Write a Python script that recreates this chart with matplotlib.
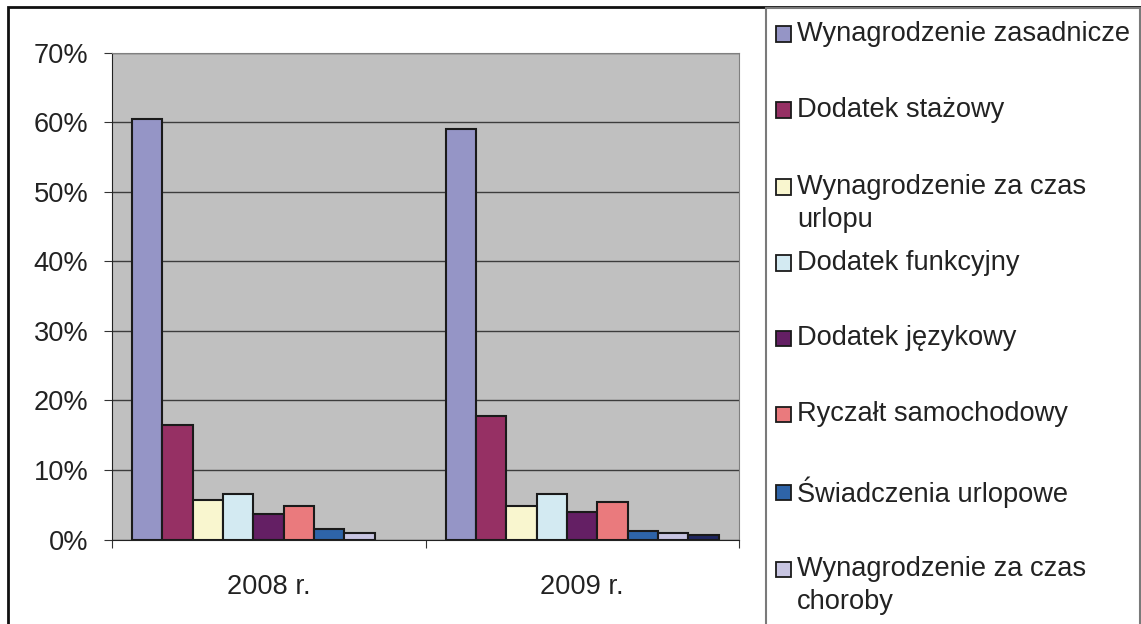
import numpy as np
import matplotlib
matplotlib.use("Agg")
import matplotlib.pyplot as plt
from matplotlib.patches import Rectangle

# Data (share of total pay, %).
years = ["2008 r.", "2009 r."]
labels = ["Wynagrodzenie zasadnicze", "Dodatek stażowy", "Wynagrodzenie za czas\nurlopu",
          "Dodatek funkcyjny", "Dodatek językowy", "Ryczałt samochodowy",
          "Świadczenia urlopowe", "Wynagrodzenie za czas\nchoroby"]
values_2008 = [60.5, 16.5, 5.7, 6.5, 3.6, 4.8, 1.5, 0.9, np.nan]
values_2009 = [59.0, 17.7, 4.8, 6.5, 3.9, 5.4, 1.2, 0.9, 0.6]
colors = ["#9595C6", "#963064", "#F9F6CF", "#D3EAF2", "#641F64",
          "#EA7A7D", "#2E64A8", "#C8C5E2", "#1F2660"]
yticks = [0, 10, 20, 30, 40, 50, 60, 70]

W, H = 1141, 624
plt.rcParams['font.family'] = ['Liberation Sans', 'DejaVu Sans']
fig = plt.figure(figsize=(W / 100, H / 100), dpi=100)
fs = 19.6

def fx(px):
    return px / W

def fy(py):
    return 1 - py / H

ax = fig.add_axes([fx(112), fy(539.5), fx(739) - fx(112), fy(52.7) - fy(539.5)])
ax.set_facecolor("#C0C0C0")

# Bar geometry in category units (Excel style clustered columns).
offset = 0.064
width = 0.0968
for j in range(len(colors)):
    vals = [values_2008[j], values_2009[j]]
    xs = [i + offset + j * width for i in range(len(years))]
    ax.bar(xs, vals, width=width, align='edge', color=colors[j],
           edgecolor="#1a1a1a", linewidth=1.5, zorder=3)

ax.set_xlim(0, 2)
ax.set_ylim(0, 70)
ax.set_yticks(yticks)
ax.set_yticklabels([f"{t}%" for t in yticks])
ax.yaxis.grid(True, color="#3c3c3c", linewidth=1, zorder=1)

ax.set_xticks([0, 1, 2])
ax.set_xticklabels([])
ax.set_xticks([0.5, 1.5], minor=True)
ax.set_xticklabels(years, minor=True)
ax.tick_params(axis='x', which='minor', length=0, pad=25, labelsize=fs, labelcolor="#222222")
ax.tick_params(axis='x', which='major', direction='out', length=6, color="#333333")
ax.tick_params(axis='y', direction='out', length=6, pad=11, labelsize=fs,
               labelcolor="#222222", color="#333333")

ax.spines['left'].set_color("#222222")
ax.spines['bottom'].set_color("#222222")
ax.spines['top'].set_color("#808080")
ax.spines['right'].set_color("#808080")

# Outer chart border.
fig.patches.append(Rectangle((fx(8), fy(700)), fx(1200), fy(7) - fy(700),
                             transform=fig.transFigure, fill=False,
                             edgecolor="#111111", linewidth=2))
# Legend box.
fig.patches.append(Rectangle((fx(766), fy(700)), fx(1140) - fx(766), fy(8) - fy(700),
                             transform=fig.transFigure, fill=False,
                             edgecolor="#7a7a7a", linewidth=1.5))

# Legend entries, evenly spaced like the original.
legend_y = [34, 110, 187, 263, 338, 414, 492, 569]
for lab, col, py in zip(labels, colors, legend_y):
    fig.patches.append(Rectangle((fx(776), fy(py + 7.5)), fx(15), fy(0) - fy(15),
                                 transform=fig.transFigure, facecolor=col,
                                 edgecolor="#1a1a1a", linewidth=1.3))
    for k, line in enumerate(lab.split("\n")):
        fig.text(fx(797), fy(py + k * 33), line, fontsize=fs, color="#222222",
                 va='center', ha='left')

fig.savefig("out.png", dpi=100)
